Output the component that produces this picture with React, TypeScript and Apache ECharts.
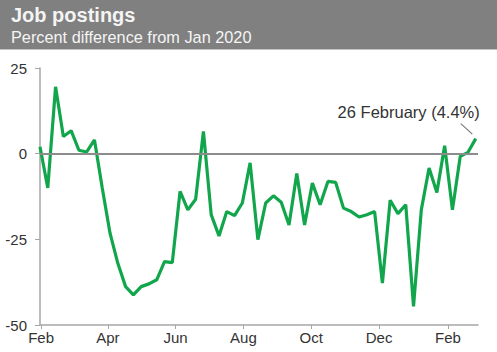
import React, { useEffect, useRef } from "react";
import * as echarts from "echarts";

// Weekly job postings, percent difference from Jan 2020 (first week ending 31 Jan 2020)
const startDate = "2020-01-31";
const endDate = "2021-02-28";
const values: number[] = [
  2, -10, 19.5, 5, 6.7, 1, 0.5, 4, -10, -23.2,
  -32, -38.8, -41.2, -38.8, -38, -36.8, -31.5, -31.8, -11, -16.4,
  -13.3, 6.5, -17.8, -24, -16.9, -18.1, -14.4, -2.7, -25.1, -14.4,
  -12.3, -14.2, -20.8, -5.8, -20.8, -8.6, -14.9, -8.1, -8.4, -15.9,
  -16.9, -18.5, -17.8, -16.9, -37.8, -13.6, -17.5, -14.9, -44.6, -16.4,
  -4.2, -11.3, 2.3, -16.4, -0.8, 0.4, 4.4,
];
const yTicks = { min: -50, max: 25, interval: 25 };
const monthNames = ["Jan", "Feb", "Mar", "Apr", "May", "Jun", "Jul", "Aug", "Sep", "Oct", "Nov", "Dec"];
const labeledMonths = [2, 4, 6, 8, 10, 12];
const titleText = "Job postings";
const subtitleText = "Percent difference from Jan 2020";
const annotationText = "26 February (4.4%)";

const DAY = 86400000;
const iso = (t: number) => new Date(t).toISOString().slice(0, 10);

function buildCategories(): string[] {
  const out: string[] = [];
  const s = Date.parse(startDate + "T00:00:00Z");
  const e = Date.parse(endDate + "T00:00:00Z");
  for (let t = s; t <= e; t += DAY) out.push(iso(t));
  return out;
}

const bandGraphics = [
  {
    type: "rect",
    z: -10,
    shape: { x: 0, y: 0, width: 497, height: 49 },
    style: { fill: "#808080" },
  },
  {
    type: "line",
    z: -10,
    shape: { x1: 0, y1: 49.5, x2: 497, y2: 49.5 },
    style: { stroke: "#c4c4c4", lineWidth: 1 },
  },
];

export default function App() {
  const ref = useRef<HTMLDivElement>(null);
  useEffect(() => {
    if (!ref.current) return;
    const chart = echarts.init(ref.current, null, { renderer: "svg" });
    const categories = buildCategories();
    const s = Date.parse(startDate + "T00:00:00Z");
    const seriesData = values.map((v, i) => [iso(s + i * 7 * DAY), v]);
    const isMonthTick = (_i: number, value: string) =>
      value.endsWith("-01") && labeledMonths.includes(+value.slice(5, 7));

    chart.setOption({
      animation: false,
      backgroundColor: "#ffffff",
      title: {
        text: titleText,
        subtext: subtitleText,
        left: 11,
        top: 5,
        itemGap: 3.5,
        padding: 0,
        textStyle: {
          fontFamily: "Liberation Sans, Arial, sans-serif",
          fontSize: 20,
          fontWeight: "bold",
          color: "#f4f4f4",
          lineHeight: 20,
        },
        subtextStyle: {
          fontFamily: "Liberation Sans, Arial, sans-serif",
          fontSize: 16.3,
          color: "#f4f4f4",
          lineHeight: 16,
        },
      },
      graphic: bandGraphics,
      grid: { left: 40, right: 19, top: 68, bottom: 27 },
      xAxis: {
        type: "category",
        data: categories,
        boundaryGap: false,
        axisLine: { onZero: false, lineStyle: { color: "#a6a6a6", width: 1.5 } },
        axisTick: { interval: isMonthTick, length: 4, lineStyle: { color: "#a6a6a6" } },
        axisLabel: {
          interval: isMonthTick,
          formatter: (v: string) => monthNames[+v.slice(5, 7) - 1],
          fontFamily: "Liberation Sans, Arial, sans-serif",
          fontSize: 15,
          color: "#333333",
          margin: 5,
        },
        splitLine: { show: false },
      },
      yAxis: {
        type: "value",
        min: yTicks.min,
        max: yTicks.max,
        interval: yTicks.interval,
        axisLine: { show: true, lineStyle: { color: "#a6a6a6", width: 1.5 } },
        axisTick: { show: true, length: 5, lineStyle: { color: "#a6a6a6" } },
        axisLabel: {
          fontFamily: "Liberation Sans, Arial, sans-serif",
          fontSize: 15,
          color: "#333333",
          margin: 13,
        },
        splitLine: { show: false },
      },
      series: [
        {
          type: "line",
          data: seriesData,
          showSymbol: false,
          symbol: "none",
          lineStyle: { color: "#12a64c", width: 3.2 },
          markLine: {
            silent: true,
            symbol: ["none", "none"],
            label: { show: false },
            lineStyle: { color: "#8c8c8c", width: 2, type: "solid" },
            data: [{ yAxis: 0 }],
          },
        },
      ],
    });

    const last = seriesData[seriesData.length - 1];
    const p = chart.convertToPixel({ seriesIndex: 0 }, last as any) as number[];
    if (p && isFinite(p[0])) {
      chart.setOption({
        graphic: [
          ...bandGraphics,
          {
            type: "line",
            shape: { x1: p[0] - 15, y1: p[1] - 15, x2: p[0] - 3.5, y2: p[1] - 4.5 },
            style: { stroke: "#7a7a7a", lineWidth: 1.2 },
          },
          {
            type: "text",
            style: {
              x: p[0] + 4,
              y: p[1] - 27,
              text: annotationText,
              fontFamily: "Liberation Sans, Arial, sans-serif",
              fontSize: 16.5,
              fill: "#333333",
              align: "right",
              verticalAlign: "middle",
            },
          },
        ],
      });
    }
    return () => chart.dispose();
  }, []);
  return (
    <div
      ref={ref}
      style={{ position: "fixed", left: 0, top: 0, width: 497, height: 352 }}
    />
  );
}
